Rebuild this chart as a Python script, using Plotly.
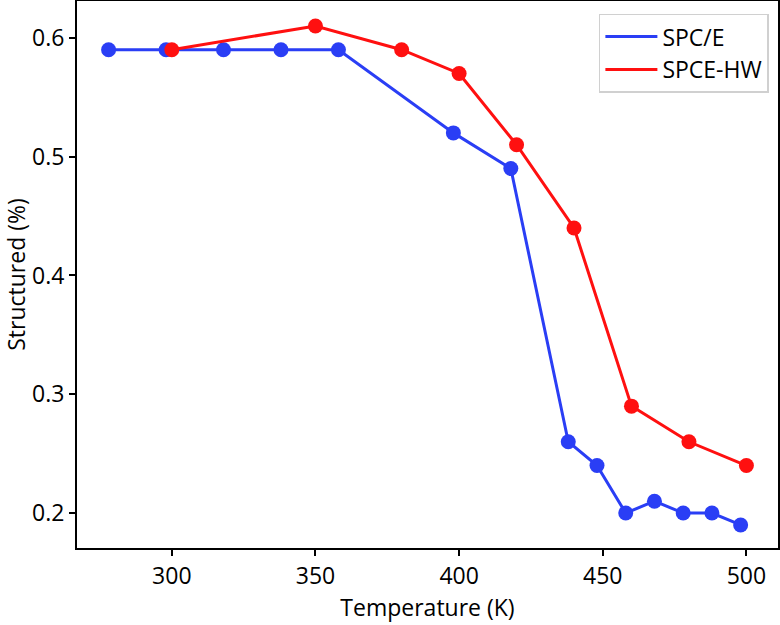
import plotly.graph_objects as go

spce_T = [278, 298, 318, 338, 358, 398, 418, 438, 448, 458, 468, 478, 488, 498]
spce_S = [0.59, 0.59, 0.59, 0.59, 0.59, 0.52, 0.49, 0.26, 0.24, 0.20, 0.21, 0.20, 0.20, 0.19]
hw_T = [300, 350, 380, 400, 420, 440, 460, 480, 500]
hw_S = [0.59, 0.61, 0.59, 0.57, 0.51, 0.44, 0.29, 0.26, 0.24]
x_ticks = [300, 350, 400, 450, 500]
y_ticks = [0.2, 0.3, 0.4, 0.5, 0.6]

FONT = "Open Sans"
BLUE = "#2a3ef5"
RED = "#ff1010"
fig = go.Figure()
for name, xs, ys, col in [("SPC/E", spce_T, spce_S, BLUE), ("SPCE-HW", hw_T, hw_S, RED)]:
    fig.add_trace(go.Scatter(x=xs, y=ys, mode="lines", name=name,
                             line=dict(color=col, width=3)))
    fig.add_trace(go.Scatter(x=xs, y=ys, mode="markers", name=name, showlegend=False,
                             marker=dict(color=col, size=15)))

axis_common = dict(showline=True, linecolor="black", linewidth=2, mirror=True,
                   ticks="outside", ticklen=6, tickwidth=1.5, tickcolor="black",
                   showgrid=False, zeroline=False, automargin=False,
                   tickfont=dict(family=FONT, size=23, color="black"))
fig.update_xaxes(range=[267, 511], tickvals=x_ticks,
                 title=dict(text="Temperature (K)", font=dict(family=FONT, size=23, color="black"), standoff=6),
                 **axis_common)
fig.update_yaxes(range=[0.1706, 0.631], tickvals=y_ticks, tickformat=".1f",
                 title=dict(text="Structured (%)", font=dict(family=FONT, size=23, color="black"), standoff=6),
                 **axis_common)
fig.update_layout(template="none", width=780, height=625, margin=dict(l=77, r=2, t=1, b=77, pad=0),
                  paper_bgcolor="white", plot_bgcolor="white",
                  legend=dict(x=0.987, y=0.977, xanchor="right", yanchor="top",
                              bordercolor="#d0d0d0", borderwidth=1.5,
                              font=dict(family=FONT, size=23, color="black"),
                              bgcolor="white", itemwidth=52))
fig.write_html("out.html", config={"displayModeBar": False},
               post_script="document.body.style.margin='0';document.body.style.overflow='hidden';")
